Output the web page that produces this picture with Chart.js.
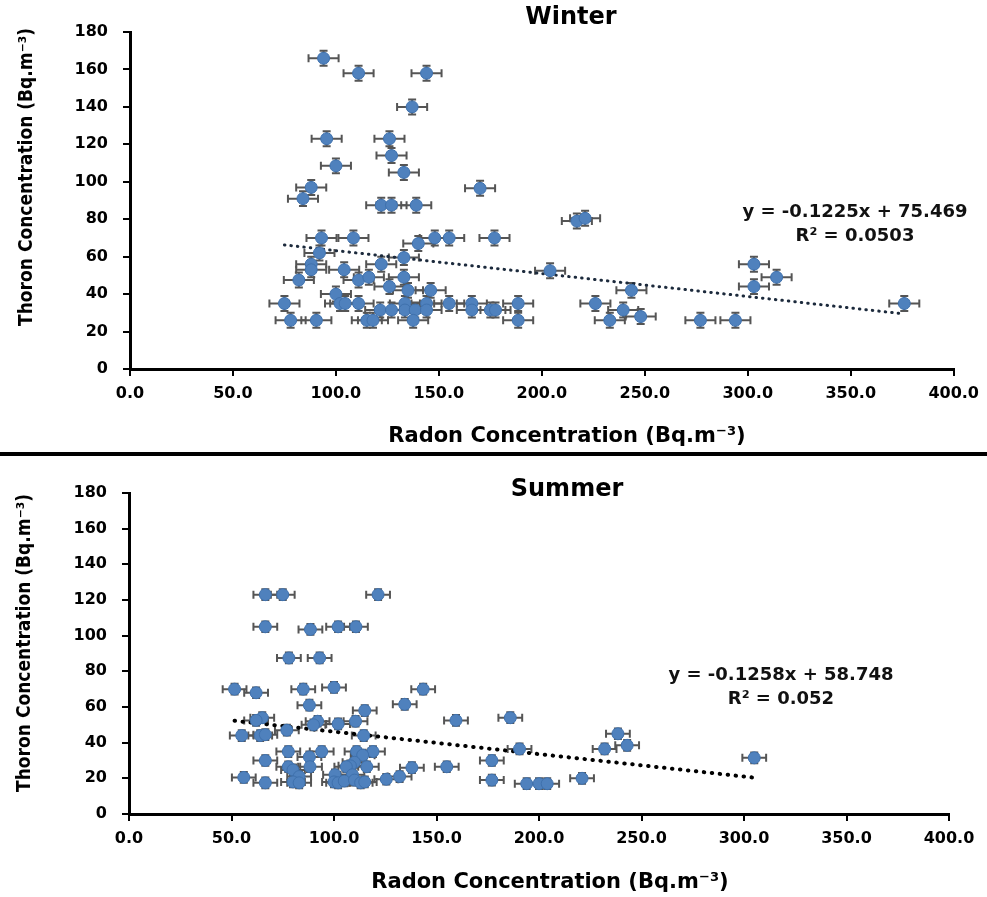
<!DOCTYPE html>
<html>
<head>
<meta charset="utf-8">
<script src="https://cdn.jsdelivr.net/npm/chart.js@4/dist/chart.umd.min.js"></script>
<style>
  body { margin: 0; background: #fff; }
  canvas { display: block; }
  .divider { height: 4px; background: #000; }
</style>
</head>
<body>
<canvas id="winterChart" width="987" height="452"></canvas>
<div class="divider"></div>
<canvas id="summerChart" width="987" height="441"></canvas>
<script>
// values
const winterRadon = [94, 111, 144, 137, 95.5, 126, 127, 100, 133, 88, 170, 84, 122, 127, 139,
  93, 108.5, 148, 155, 177, 140, 92, 133, 122, 88, 88, 104, 82, 111, 116, 133, 126, 135, 146, 100,
  75, 102, 104.5, 111, 133.5, 144, 155, 166, 121.5, 127, 133.5, 138.5, 144, 166, 175, 177.5,
  78, 90.5, 115, 118, 137.5, 217, 221, 204, 243.5, 303, 314, 303, 376, 188.5, 188.5, 226, 239.5,
  233, 248, 277, 294];
const winterThoron = [166, 158, 158, 140, 123, 123, 114, 108.5, 105, 97, 96.5, 91, 87.5, 87.5, 87.5,
  70, 70, 70, 70, 70, 67, 62, 59.5, 56, 56, 53, 53, 47.5, 47.5, 49, 49, 44, 42, 42, 40,
  35, 35, 35, 35, 35, 35, 35, 35, 31.5, 31.5, 31.5, 31.5, 31.5, 31.5, 31.5, 31.5,
  26, 26, 26, 26, 26, 79, 80.5, 52.5, 42, 56, 49, 44, 35, 35, 26, 35, 31.5,
  26, 28, 26, 26];

const summerRadon = [66.5, 75, 121.5, 66.5, 88.5, 102, 110.7, 78, 93, 51.5, 62, 85, 100, 143.5,
  88, 134.5, 115, 159.5, 186, 65, 62, 92, 90, 102, 110.5, 77, 55, 64, 66.5, 114.5,
  77.7, 94, 111, 119, 114, 88, 66.5, 110, 108, 77.7, 80, 88.3, 106, 116, 138, 155,
  83, 100.5, 109, 132, 125.5, 56, 66.5, 80, 83, 100, 102, 105, 110, 113, 115,
  238.5, 232, 243, 190.5, 177, 177, 305, 221, 194, 200, 204];
const summerThoron = [123, 123, 123, 105, 103.5, 105, 105, 87.5, 87.5, 70, 68, 70, 71, 70,
  61, 61.5, 58, 52.5, 54, 54, 52.5, 52, 50, 50.5, 52, 47, 44, 44, 44.5, 44,
  35, 35, 35, 35, 33, 32, 30, 29, 27, 26.5, 24.7, 26.5, 26.5, 26.5, 26, 26.5,
  21, 22, 22, 21, 19.5, 20.5, 17.5, 18, 17.5, 18, 17.5, 18.5, 19, 17.5, 18,
  45, 36.5, 38.5, 36.5, 30, 19, 31.5, 20, 17, 17, 17];

// error bar half widths (Bq.m-3)
const winterErr = { x: 7.3, y: 4 };
const summerErr = { x: 5.8, y: 3 };

// linear fits shown on the plots
const winterFit = { slope: -0.1225, intercept: 75.469, r2: '0.0503' };
const summerFit = { slope: -0.1258, intercept: 58.748, r2: '0.052' };

const xTicks = [0, 50, 100, 150, 200, 250, 300, 350, 400];
const yTicks = [0, 20, 40, 60, 80, 100, 120, 140, 160, 180];

const xTitle = 'Radon Concentration (Bq.m\u207B\u00B3)';
const yTitle = 'Thoron Concentration (Bq.m\u207B\u00B3)';

const FONT = '"DejaVu Sans", sans-serif';

const errorBars = {
  id: 'errorBars',
  beforeDatasetsDraw(chart, args, opts) {
    const ctx = chart.ctx;
    const xs = chart.scales.x, ys = chart.scales.y;
    const cap = 4;
    ctx.save();
    ctx.strokeStyle = '#555';
    ctx.lineWidth = 2;
    chart.data.datasets.forEach(ds => {
      if (!ds.err) return;
      ds.data.forEach(p => {
        const cx = xs.getPixelForValue(p.x), cy = ys.getPixelForValue(p.y);
        const x0 = xs.getPixelForValue(p.x - ds.err.x), x1 = xs.getPixelForValue(p.x + ds.err.x);
        const y0 = ys.getPixelForValue(p.y - ds.err.y), y1 = ys.getPixelForValue(p.y + ds.err.y);
        ctx.beginPath();
        ctx.moveTo(x0, cy); ctx.lineTo(x1, cy);
        ctx.moveTo(x0, cy - cap); ctx.lineTo(x0, cy + cap);
        ctx.moveTo(x1, cy - cap); ctx.lineTo(x1, cy + cap);
        ctx.moveTo(cx, y0); ctx.lineTo(cx, y1);
        ctx.moveTo(cx - cap, y0); ctx.lineTo(cx + cap, y0);
        ctx.moveTo(cx - cap, y1); ctx.lineTo(cx + cap, y1);
        ctx.stroke();
      });
    });
    ctx.restore();
  }
};

const decor = {
  id: 'decor',
  afterDraw(chart, args, o) {
    const ctx = chart.ctx;
    ctx.save();
    ctx.fillStyle = '#000';
    ctx.textAlign = 'center';
    ctx.textBaseline = 'middle';
    ctx.font = 'bold 24px ' + FONT;
    ctx.fillText(o.title, o.titlePos[0], o.titlePos[1]);
    ctx.fillStyle = '#111';
    ctx.font = 'bold 18px ' + FONT;
    o.eq.forEach((t, i) => ctx.fillText(t, o.eqPos[0], o.eqPos[1] + i * 24));
    ctx.fillStyle = '#000';
    ctx.font = 'bold 21px ' + FONT;
    ctx.fillText(xTitle, o.xTitlePos[0], o.xTitlePos[1]);
    ctx.translate(o.yTitlePos[0], o.yTitlePos[1]);
    ctx.rotate(-Math.PI / 2);
    ctx.font = 'bold 19px "DejaVu Sans Condensed", ' + FONT;
    ctx.fillText(yTitle, 0, 0);
    ctx.restore();
  }
};

function fitLine(xs, fit) {
  const lo = Math.min(...xs), hi = Math.max(...xs);
  return [lo, hi].map(x => ({ x: x, y: fit.slope * x + fit.intercept }));
}

function makeChart(id, radon, thoron, err, fit, lay) {
  const points = radon.map((x, i) => ({ x: x, y: thoron[i] }));
  const tickFont = { family: FONT, weight: 'bold', size: 16 };
  return new Chart(document.getElementById(id), {
    type: 'scatter',
    data: {
      datasets: [
        {
          data: points,
          err: err,
          backgroundColor: '#4F81BD',
          borderColor: '#3F71AD',
          borderWidth: 1,
          pointRadius: 6,
          pointHoverRadius: 6
        },
        {
          type: 'line',
          data: fitLine(radon, fit),
          borderColor: lay.fitColor,
          borderWidth: lay.fitWidth,
          borderDash: lay.fitDash,
          borderCapStyle: 'round',
          pointRadius: 0,
          fill: false
        }
      ]
    },
    options: {
      responsive: false,
      animation: false,
      devicePixelRatio: 1,
      layout: { padding: { top: lay.top, right: lay.right, left: 0, bottom: 0 } },
      scales: {
        x: {
          type: 'linear',
          min: 0, max: 400,
          afterBuildTicks: s => { s.ticks = xTicks.map(v => ({ value: v })); },
          afterFit: s => { s.height = lay.xHeight; },
          ticks: {
            color: '#000', font: tickFont, padding: 8,
            callback: v => v.toFixed(1)
          },
          grid: { drawOnChartArea: false, drawTicks: true, tickLength: 7, color: '#000', lineWidth: 2 },
          border: { display: true, color: '#000', width: 3 }
        },
        y: {
          type: 'linear',
          min: 0, max: 180,
          afterBuildTicks: s => { s.ticks = yTicks.map(v => ({ value: v })); },
          afterFit: s => { s.width = lay.yWidth; },
          ticks: { color: '#000', font: tickFont, padding: 15 },
          grid: { drawOnChartArea: false, drawTicks: true, tickLength: 7, color: '#000', lineWidth: 2 },
          border: { display: true, color: '#000', width: 3 }
        }
      },
      plugins: {
        legend: { display: false },
        tooltip: { enabled: false },
        decor: {
          title: lay.title,
          titlePos: lay.titlePos,
          eq: ['y = ' + fit.slope + 'x + ' + fit.intercept, 'R\u00B2 = ' + fit.r2],
          eqPos: lay.eqPos,
          xTitlePos: lay.xTitlePos,
          yTitlePos: lay.yTitlePos
        }
      }
    },
    plugins: [errorBars, decor]
  });
}

makeChart('winterChart', winterRadon, winterThoron, winterErr, winterFit, {
  top: 32, right: 33, yWidth: 130, xHeight: 83,
  fitColor: '#1c2a3c', fitWidth: 3, fitDash: [0.5, 6],
  title: 'Winter', titlePos: [571, 18],
  eqPos: [855, 212], xTitlePos: [567, 437], yTitlePos: [27, 177]
});

makeChart('summerChart', summerRadon, summerThoron, summerErr, summerFit, {
  top: 37, right: 38, yWidth: 129, xHeight: 83,
  fitColor: '#000', fitWidth: 4, fitDash: [0.5, 7.5],
  title: 'Summer', titlePos: [567, 34],
  eqPos: [781, 219], xTitlePos: [550, 427], yTitlePos: [25, 187]
});
</script>
</body>
</html>
